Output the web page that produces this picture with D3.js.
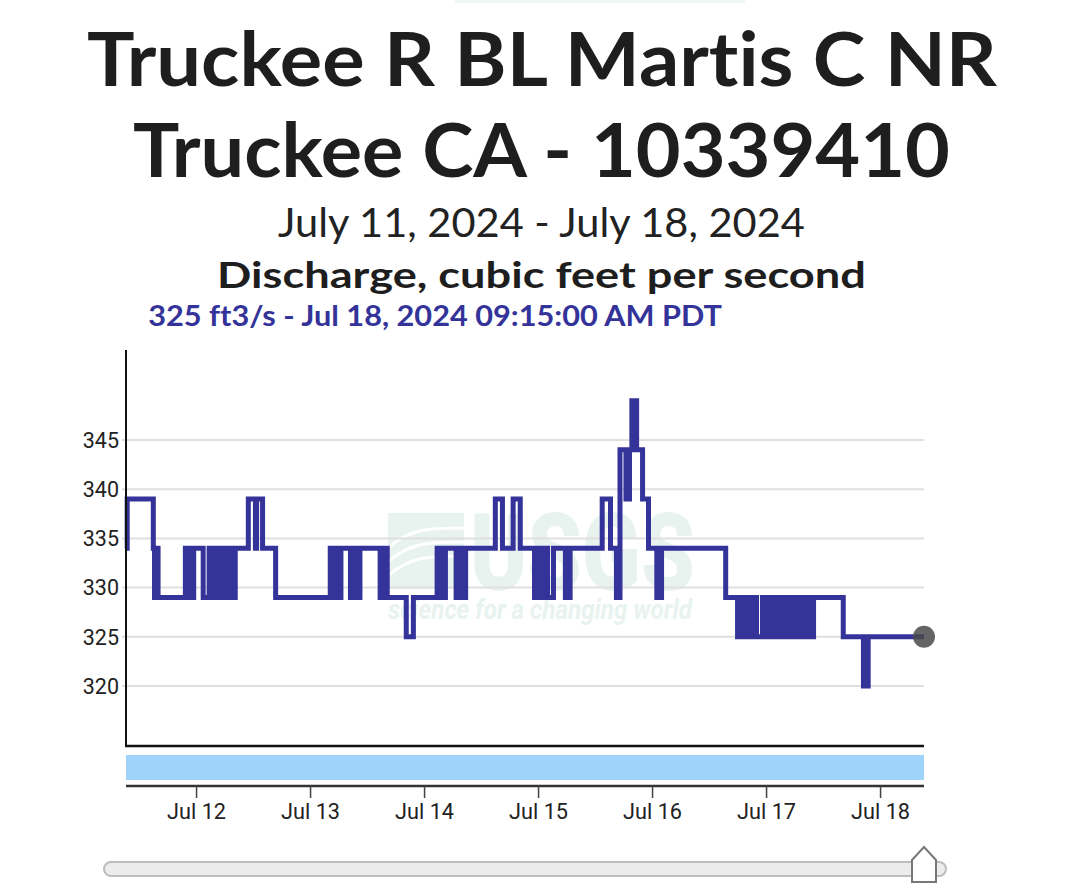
<!DOCTYPE html>
<html>
<head>
<meta charset="utf-8">
<script src="https://cdn.jsdelivr.net/npm/d3@7"></script>
<style>
  html, body { margin: 0; padding: 0; background: #ffffff; }
  svg { display: block; }
  text { font-variant-ligatures: none; font-feature-settings: "liga" 0, "clig" 0; }
</style>
</head>
<body>
<svg id="chart" width="1080" height="886"></svg>
<script>
// ---------------- data ----------------
const titleLines = ["Truckee R BL Martis C NR", "Truckee CA - 10339410"];
const dateRangeLabel = "July 11, 2024 - July 18, 2024";
const parameterLabel = "Discharge, cubic feet per second";
const latestLabel = "325 ft3/s - Jul 18, 2024 09:15:00 AM PDT";

const domainStart = "2024-07-11 09:15";
const domainEnd = "2024-07-18 09:15";

const yTickValues = [320, 325, 330, 335, 340, 345];
const xTickLabels = ["Jul 12", "Jul 13", "Jul 14", "Jul 15", "Jul 16", "Jul 17", "Jul 18"];

// change points of the 15-minute discharge record (local time, July 2024)
const changeTimes = [
  "11 09:15","11 09:30","11 15:00","11 15:15","11 15:30","11 16:00","11 21:45","11 22:45","11 23:30",
  "12 01:30","12 02:45","12 03:45","12 04:15","12 04:30","12 05:30","12 06:15","12 06:45","12 07:45",
  "12 08:15","12 11:00","12 12:30","12 12:45","12 14:00","12 16:45",
  "13 04:15","13 04:45","13 05:30","13 06:00","13 06:30","13 08:30","13 09:00","13 09:45","13 10:30",
  "13 14:45","13 15:30","13 16:15","13 20:15","13 21:45",
  "14 02:45","14 03:00","14 03:30","14 04:00","14 04:30","14 06:45","14 07:15","14 07:30","14 08:00",
  "14 08:30","14 08:45","14 15:00","14 16:30","14 18:45","14 20:15","14 23:15",
  "15 00:00","15 00:30","15 01:30","15 02:00","15 03:15","15 05:45","15 06:45","15 13:30","15 15:15",
  "15 16:30","15 17:15","15 18:30","15 19:15","15 19:45","15 20:45","15 22:00","15 23:15",
  "16 01:00","16 02:00","16 15:30","16 18:00","16 18:45","16 19:15","16 20:00","16 20:30","16 21:15",
  "16 22:00","16 23:15","16 23:45",
  "17 00:30","17 01:15","17 02:00","17 02:30","17 03:15","17 04:00","17 04:45","17 05:15","17 06:00",
  "17 06:30","17 07:15","17 07:45","17 08:30","17 09:15","17 10:00","17 16:15","17 20:30","17 21:30",
  "18 09:15"
];
const changeValues = [
  334,339,334,329,334,329,334,329,334,
  329,334,329,334,329,334,329,334,329,
  334,339,334,339,334,329,
  334,329,334,329,334,329,334,329,334,
  329,334,329,325,329,
  334,329,334,329,334,329,334,329,334,
  329,334,339,334,339,334,329,
  334,329,334,329,334,329,334,339,334,
  329,344,339,344,349,344,339,334,
  329,334,329,325,329,325,329,325,329,
  325,329,325,
  329,325,329,325,329,325,329,325,329,
  325,329,325,329,325,329,325,320,325,
  325
];

// ---------------- drawing ----------------
const svg = d3.select("#chart");
const parse = d3.utcParse("%Y-%m-%d %H:%M");
const data = changeTimes.map((t, i) => ({ t: parse("2024-07-" + t), v: changeValues[i] }));

const plot = { left: 126, right: 924, top: 350, bottom: 746 };

const x = d3.scaleUtc()
  .domain([parse(domainStart), parse(domainEnd)])
  .range([plot.left, plot.right]);
const y = d3.scaleLinear()
  .domain([313.9, 354.15])
  .range([plot.bottom, plot.top]);

function fit(sel, width) {
  const w = sel.node().getComputedTextLength();
  const cx = +sel.attr("x");
  sel.attr("transform", `translate(${cx},0) scale(${width / w},1) translate(${-cx},0)`);
}

// faint strip at the very top
svg.append("rect").attr("x", 455).attr("y", 0).attr("width", 290).attr("height", 3)
  .attr("fill", "#eef8f6");

// titles
const titleFont = "Lato, 'Noto Sans', sans-serif";
const t1 = svg.append("text").attr("x", 542).attr("y", 86).attr("text-anchor", "middle")
  .attr("font-family", titleFont).attr("font-weight", 700).attr("font-size", 75)
  .attr("fill", "#1e1e1e").text(titleLines[0]);
fit(t1, 910);
const t2 = svg.append("text").attr("x", 541.5).attr("y", 177).attr("text-anchor", "middle")
  .attr("font-family", titleFont).attr("font-weight", 700).attr("font-size", 75)
  .attr("fill", "#1e1e1e").text(titleLines[1]);
fit(t2, 817);
const t3 = svg.append("text").attr("x", 541.5).attr("y", 237).attr("text-anchor", "middle")
  .attr("font-family", titleFont).attr("font-weight", 400).attr("font-size", 40)
  .attr("fill", "#222").text(dateRangeLabel);
fit(t3, 527);
const t4 = svg.append("text").attr("x", 541.5).attr("y", 288).attr("text-anchor", "middle")
  .attr("font-family", titleFont).attr("font-weight", 700).attr("font-size", 37)
  .attr("fill", "#1e1e1e").text(parameterLabel);
fit(t4, 649);
const t5 = svg.append("text").attr("x", 435).attr("y", 326).attr("text-anchor", "middle")
  .attr("font-family", titleFont).attr("font-weight", 700).attr("font-size", 29)
  .attr("fill", "#333399").text(latestLabel);
fit(t5, 574);

// watermark
const wm = svg.append("g").attr("fill", "#e8f3f0");
wm.append("rect").attr("x", 388).attr("y", 513).attr("width", 76).attr("height", 76);
[0, 14, 28].forEach(dy => {
  wm.append("path")
    .attr("d", `M388,${548 + dy} C410,${528 + dy} 430,${528 + dy} 464,${528 + dy}`)
    .attr("fill", "none").attr("stroke", "#ffffff").attr("stroke-width", 3);
});
const u = wm.append("text").attr("x", 470).attr("y", 590).attr("font-family", "Roboto, sans-serif")
  .attr("font-weight", 900).attr("font-size", 108).text("USGS");
fit(u, 225);
const sc = wm.append("text").attr("x", 388).attr("y", 619).attr("font-family", "Roboto, sans-serif")
  .attr("font-weight", 700).attr("font-style", "italic").attr("font-size", 27)
  .text("science for a changing world");
fit(sc, 304);

// gridlines
svg.append("g")
  .selectAll("line").data(yTickValues).join("line")
  .attr("x1", plot.left - 4).attr("x2", plot.right)
  .attr("y1", d => y(d)).attr("y2", d => y(d))
  .attr("stroke", "#e0e0e0").attr("stroke-width", 2);

// y labels
svg.append("g")
  .selectAll("text").data(yTickValues).join("text")
  .attr("x", 119).attr("y", d => y(d)).attr("dy", "0.36em")
  .attr("text-anchor", "end")
  .attr("font-family", "Roboto, 'Liberation Sans', sans-serif")
  .attr("font-size", 21.5).attr("fill", "#222")
  .text(d => d);

// series line
const line = d3.line().x(d => x(d.t)).y(d => y(d.v)).curve(d3.curveStepAfter);
svg.append("path").datum(data)
  .attr("d", line)
  .attr("fill", "none")
  .attr("stroke", "#333399")
  .attr("stroke-width", 5)
  .attr("stroke-linejoin", "miter");

// axes lines
svg.append("line").attr("x1", plot.left).attr("x2", plot.left)
  .attr("y1", plot.top).attr("y2", plot.bottom + 1)
  .attr("stroke", "#111").attr("stroke-width", 2);
svg.append("line").attr("x1", plot.left - 1).attr("x2", plot.right)
  .attr("y1", plot.bottom).attr("y2", plot.bottom)
  .attr("stroke", "#111").attr("stroke-width", 2.5);

// latest-value marker
const last = data[data.length - 1];
svg.append("circle").attr("cx", x(last.t)).attr("cy", y(last.v)).attr("r", 11)
  .attr("fill", "#4a4a4a").attr("fill-opacity", 0.85);

// brush band
svg.append("rect").attr("x", plot.left).attr("y", 755)
  .attr("width", plot.right - plot.left).attr("height", 25)
  .attr("fill", "#a0d3fa");

// lower time axis
const xAxis = d3.axisBottom(x)
  .ticks(d3.utcDay.every(1))
  .tickSize(12)
  .tickFormat((d, i) => xTickLabels[i]);
const gx = svg.append("g").attr("transform", "translate(0,786)").call(xAxis);
gx.select(".domain").attr("stroke", "#333").attr("stroke-width", 2.5)
  .attr("d", `M${plot.left},0H${plot.right}`);
gx.selectAll(".tick line").attr("stroke", "#444").attr("stroke-width", 1.5);
gx.selectAll(".tick text")
  .attr("y", 33).attr("dy", 0)
  .attr("font-family", "Roboto, 'Liberation Sans', sans-serif")
  .attr("font-size", 22).attr("fill", "#222")
  .attr("x", 0)
  .each(function () {
    const w = this.getComputedTextLength();
    d3.select(this).attr("transform", `scale(${59 / w},1)`);
  });

// slider
svg.append("rect").attr("x", 104).attr("y", 862).attr("width", 842).attr("height", 14)
  .attr("rx", 7).attr("fill", "#ececec").attr("stroke", "#bdbdbd").attr("stroke-width", 2);
const hx = x(last.t);
svg.append("path")
  .attr("d", `M${hx - 12},860 L${hx},847 L${hx + 12},860 L${hx + 12},882 L${hx - 12},882 Z`)
  .attr("fill", "#ffffff").attr("stroke", "#777").attr("stroke-width", 2);
</script>
</body>
</html>
